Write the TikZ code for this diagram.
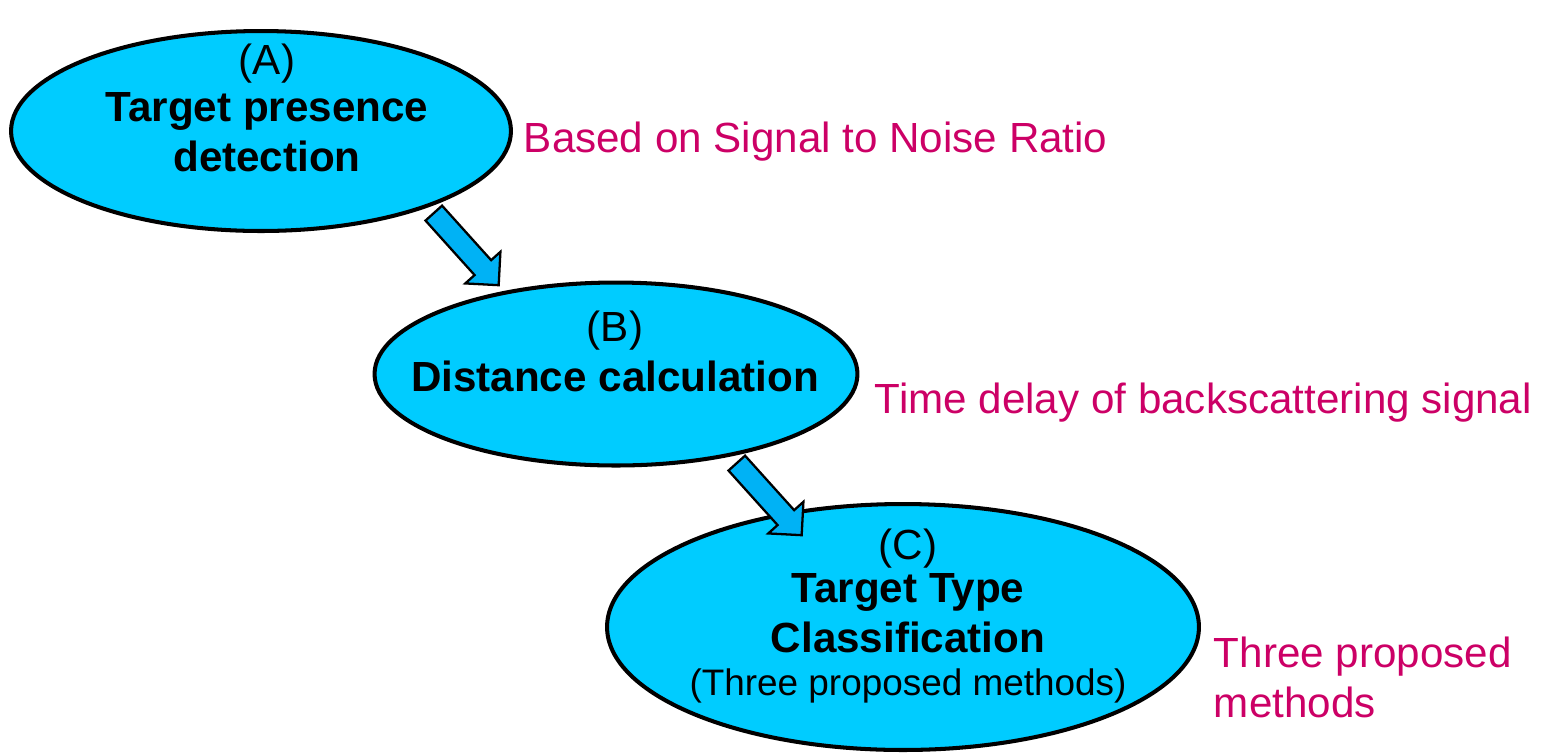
\documentclass[tikz,border=0pt]{standalone}
\usepackage{fontspec}
\setmainfont{Liberation Sans}
\usetikzlibrary{shapes.geometric,shapes.arrows,calc}
\definecolor{stagecyan}{RGB}{0,204,255}
\definecolor{flowblue}{RGB}{0,178,245}
\definecolor{notepink}{RGB}{204,0,102}
\begin{document}
\begin{tikzpicture}[x=0.02cm, y=-0.02cm, line width=2.3pt,
    stage/.style={ellipse, draw, fill=stagecyan, inner sep=0pt},
    stagetext/.style={align=center, font=\fontsize{24}{28.4}\selectfont},
    flow/.style={single arrow, draw, fill=flowblue, line width=1.3pt, inner sep=0pt, inner ysep=0.2cm,
        minimum height=1.94cm, single arrow head extend=0.25cm, rotate=-48},
    note/.style={text=notepink, anchor=west, align=left, font=\fontsize{24}{28.4}\selectfont}]
    \useasboundingbox (0,0) rectangle (1542,752);
    % the three stages
    \node[stage, minimum width=10cm, minimum height=4cm] (ea) at (261,131) {};
    \node[stage, minimum width=9.66cm, minimum height=3.66cm] (eb) at (616,374) {};
    \node[stage, minimum width=11.84cm, minimum height=4.92cm] (ec) at (903,627) {};
    \node[stagetext] (ta) at (267,108) {(A)\\[-2pt]\textbf{Target presence}\\\textbf{detection}};
    \node[stagetext] (tb) at (615,351) {(B)\\\textbf{Distance calculation}};
    \node[stagetext] (tc) at (908,616) {(C)\\[-4pt]\textbf{Target Type}\\\textbf{Classification}\\[-4pt]{\fontsize{21}{25}\selectfont (Three proposed methods)}};
    % arrows between stages
    \coordinate (s1) at (430,209);
    \coordinate (e1) at (495,281);
    \coordinate (s2) at (733,459);
    \coordinate (e2) at (798,531);
    \node[flow] (f1) at ($(s1)!0.5!(e1)$) {};
    \node[flow] (f2) at ($(s2)!0.5!(e2)$) {};
    % notes
    \node[note] (na) at (516,142) {Based on Signal to Noise Ratio};
    \node[note] (nb) at (867,403) {Time delay of backscattering signal};
    \node[note] (nc) at (1206,677) {Three proposed\\methods};
\end{tikzpicture}
\end{document}
